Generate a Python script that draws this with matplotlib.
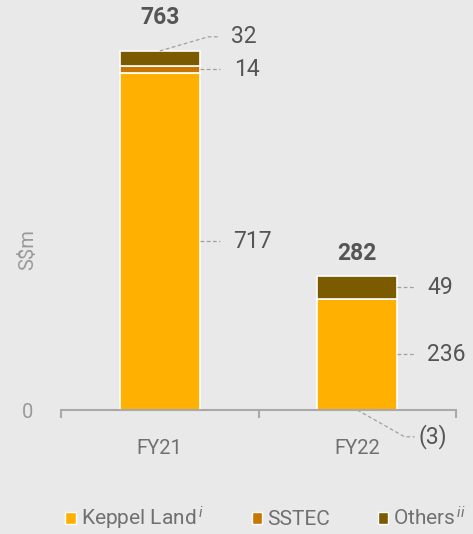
import matplotlib.pyplot as plt
from matplotlib.patches import Patch

plt.rcParams['font.family'] = ['Roboto', 'DejaVu Sans']
plt.rcParams['mathtext.fontset'] = 'custom'
plt.rcParams['mathtext.it'] = 'Roboto:italic'
plt.rcParams['mathtext.rm'] = 'Roboto'

# data
years = ['FY21', 'FY22']
keppel_land = [717, 236]
sstec = [14, -3]
others = [32, 49]
totals = [763, 282]

series_labels = ['Keppel Land$^{\\,i}$', 'SSTEC', 'Others$^{\\,ii}$']
colors = ['#FFB000', '#C67700', '#7B5A00']
bg = '#E8E9E8'

fig = plt.figure(figsize=(4.73, 5.34), dpi=100, facecolor=bg)
ax = fig.add_axes([61 / 473, (534 - 410) / 534, 395 / 473, 400 / 534])
ax.set_facecolor(bg)

x = list(range(len(years)))
w = 0.405

# stack: keppel from 0, sstec on top if positive, others on top
sst_bottom = [k if s >= 0 else 0 for k, s in zip(keppel_land, sstec)]
oth_bottom = [k + max(s, 0) for k, s in zip(keppel_land, sstec)]

ax.bar(x, keppel_land, w, color=colors[0], edgecolor='white', linewidth=1.2)
ax.bar(x, sstec, w, bottom=sst_bottom, color=colors[1], edgecolor='white', linewidth=1.2)
ax.bar(x, others, w, bottom=oth_bottom, color=colors[2], edgecolor='white', linewidth=1.2)

ax.set_xlim(-0.5, 1.5)
ax.set_ylim(0, 850)

for s in ['top', 'right', 'left']:
    ax.spines[s].set_visible(False)
ax.spines['bottom'].set_color('#A9A9A9')
ax.spines['bottom'].set_linewidth(1.5)
ax.spines['bottom'].set_zorder(5)

ax.set_xticks(x)
ax.set_xticklabels(years)
ax.tick_params(axis='x', length=0, pad=21, labelsize=14.5, labelcolor='#707070')
ax.set_xticks([-0.5, 0.5, 1.5], minor=True)
ax.tick_params(axis='x', which='minor', length=6, width=1.5, color='#A9A9A9', direction='out')

ax.set_yticks([0])
ax.tick_params(axis='y', length=0, pad=20, labelsize=14.5, labelcolor='#9A9A9A')
ax.set_ylabel('S$m', fontsize=14.5, color='#9A9A9A')
ax.yaxis.set_label_coords(-0.061, 0.4)

txt = '#555555'
lc = '#A0A0A0'
ls = dict(color=lc, linestyle=(0, (3, 2)), linewidth=0.9, clip_on=False)
fs = 16.5

# totals
ax.annotate(str(totals[0]), (0, totals[0]), xytext=(0, 24), textcoords='offset points',
            ha='center', va='center', fontsize=fs, fontweight='bold', color=txt)
ax.annotate(str(totals[1]), (1, oth_bottom[1] + others[1]), xytext=(0, 16), textcoords='offset points',
            ha='center', va='center', fontsize=fs, fontweight='bold', color=txt)

# FY21 segment labels
edge = w / 2
y32 = 793
ax.plot([0, 0.245, 0.305], [totals[0], y32, y32], **ls)
ax.text(0.36, y32, str(others[0]), ha='left', va='center', fontsize=fs, color=txt)
y14 = keppel_land[0] + sstec[0] / 2
ax.plot([edge, 0.305], [y14, y14], **ls)
ax.text(0.375, y14, str(sstec[0]), ha='left', va='center', fontsize=fs, color=txt)
y717 = keppel_land[0] / 2
ax.plot([edge, 0.305], [y717, y717], **ls)
ax.text(0.37, y717, str(keppel_land[0]), ha='left', va='center', fontsize=fs, color=txt)

# FY22 segment labels
y49 = oth_bottom[1] + others[1] / 2
ax.plot([1 + edge, 1.29], [y49, y49], **ls)
ax.text(1.355, y49, str(others[1]), ha='left', va='center', fontsize=fs, color=txt)
y236 = keppel_land[1] / 2
ax.plot([1 + edge, 1.29], [y236, y236], **ls)
ax.text(1.355, y236, str(keppel_land[1]), ha='left', va='center', fontsize=fs, color=txt)
yneg = -57
ax.plot([1, 1.24, 1.29], [0, yneg, yneg], **ls)
ax.text(1.31, yneg, '(%d)' % abs(sstec[1]), ha='left', va='center', fontsize=fs, color=txt)

handles = [Patch(facecolor=c, edgecolor='white', linewidth=1) for c in colors]
leg = fig.legend(handles, series_labels, loc='center', bbox_to_anchor=(0.562, 0.03),
                 ncol=3, frameon=False, fontsize=15, handlelength=0.5, handleheight=0.5,
                 handletextpad=0.25, columnspacing=2.3, labelcolor='#707070',
                 borderpad=0.1)

fig.savefig('out.png', dpi=100, facecolor=bg)
